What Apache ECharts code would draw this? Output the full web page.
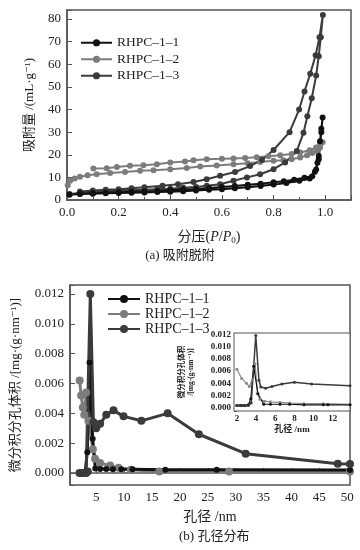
<!DOCTYPE html>
<html>
<head>
<meta charset="utf-8">
<script src="https://cdn.jsdelivr.net/npm/echarts@6/dist/echarts.min.js"></script>
<style>
html, body { margin: 0; padding: 0; background: #fff; }
#chart { width: 360px; height: 550px; }
</style>
</head>
<body>
<div id="chart"></div>
<script>
// ---- data: (a) isotherms, adsorption branch then desorption branch
const iso1P = [0.01, 0.05, 0.1, 0.15, 0.2, 0.25, 0.3, 0.35, 0.4, 0.45, 0.5, 0.55, 0.6, 0.65, 0.7, 0.75, 0.8, 0.85, 0.9, 0.94, 0.96, 0.97, 0.975, 0.98, 0.985, 0.99,
  0.985, 0.975, 0.965, 0.95, 0.92, 0.88, 0.84, 0.8, 0.75, 0.7, 0.65, 0.6, 0.55, 0.5, 0.45, 0.4, 0.35, 0.3, 0.25, 0.2, 0.15, 0.1, 0.05];
const iso1V = [2.3, 2.6, 2.8, 3.0, 3.1, 3.2, 3.3, 3.5, 3.7, 3.9, 4.2, 4.5, 4.8, 5.2, 5.6, 6.2, 6.8, 7.5, 8.5, 9.5, 12.5, 16.5, 19.5, 26, 31.5, 36.5,
  30, 18, 13.5, 10.5, 9.8, 9.0, 8.3, 7.8, 7.2, 6.7, 6.2, 5.8, 5.3, 4.9, 4.6, 4.3, 4.0, 3.8, 3.6, 3.4, 3.2, 3.0, 2.8];

const iso2P = [0.003, 0.012, 0.03, 0.05, 0.08, 0.115, 0.167, 0.225, 0.283, 0.335, 0.4, 0.464, 0.516, 0.58, 0.645, 0.7, 0.748, 0.8, 0.838, 0.87, 0.903, 0.93, 0.95, 0.968, 0.98, 0.99,
  0.98, 0.965, 0.94, 0.903, 0.87, 0.826, 0.78, 0.735, 0.69, 0.645, 0.6, 0.541, 0.49, 0.457, 0.4, 0.348, 0.296, 0.244, 0.193, 0.154, 0.102];
const iso2V = [6.5, 8.5, 9.5, 10.3, 10.9, 11.4, 11.9, 12.4, 12.9, 13.2, 13.6, 14.1, 14.8, 15.3, 15.8, 16.3, 16.8, 17.3, 17.6, 18.0, 18.8, 19.8, 20.8, 21.7, 23.2, 25.5,
  24.5, 23.2, 22.0, 21.0, 20.3, 19.8, 19.3, 18.9, 18.6, 18.4, 18.2, 18.0, 17.6, 17.0, 16.6, 15.8, 15.4, 15.1, 14.6, 14.0, 13.9];

const iso3P = [0.01, 0.05, 0.1, 0.15, 0.2, 0.25, 0.3, 0.35, 0.4, 0.45, 0.5, 0.541, 0.593, 0.645, 0.697, 0.748, 0.8, 0.845, 0.89, 0.916, 0.931, 0.948, 0.965, 0.975, 0.983, 0.991,
  0.978, 0.963, 0.942, 0.92, 0.899, 0.862, 0.8, 0.755, 0.709, 0.651, 0.593, 0.541, 0.49, 0.43, 0.37, 0.3, 0.25, 0.2, 0.15, 0.1, 0.05];
const iso3V = [2.6, 3.2, 3.6, 3.9, 4.1, 4.3, 4.5, 4.8, 5.0, 5.4, 5.8, 6.3, 7.0, 8.5, 10.0, 11.4, 13.6, 16.6, 21.7, 29.7, 37, 45, 55, 63.5, 72, 81.8,
  72, 64, 55.8, 48, 40, 30, 22.1, 17.7, 15.0, 12.4, 10.7, 9.2, 8.0, 7.0, 6.3, 5.6, 5.2, 4.8, 4.5, 4.2, 3.8];

// ---- data: (b) pore size distribution
const pd1D = [2.0, 2.5, 3.0, 3.2, 3.4, 3.8, 4.36, 4.84, 5.7, 6.8, 8.0, 9.5, 11.5, 17.4, 26.6, 50.5];
const pd1V = [0, 0, 0, 0.0001, 0.0014, 0.0074, 0.0023, 0.0003, 0.00028, 0.00027, 0.00026, 0.00025, 0.00025, 0.00023, 0.00023, 0.0002];

const pd2D = [2.03, 2.3, 2.6, 2.85, 3.2, 3.6, 4.4, 4.8, 5.7, 7.5, 9.0, 11.2, 16.3, 28.8, 50.5];
const pd2V = [0.0062, 0.0052, 0.0044, 0.0039, 0.0054, 0.0035, 0.0016, 0.00096, 0.00067, 0.0005, 0.00036, 0.00022, 0.0001, 0.0001, 0.0001];

const pd3D = [2.0, 2.4, 2.8, 3.2, 3.5, 3.94, 4.5, 5.0, 5.7, 6.8, 8.1, 9.9, 13.1, 17.8, 23.4, 31.8, 48.3, 50.5];
const pd3V = [0, 0, 0, 0, 0.0001, 0.012, 0.0034, 0.003, 0.0033, 0.0039, 0.0042, 0.0038, 0.0035, 0.004, 0.0026, 0.0013, 0.00063, 0.0006];

// ---- data: inset
const in1D = [2.0, 2.4, 2.8, 3.2, 3.45, 3.75, 4.2, 4.8, 5.5, 6.5, 7.5, 9.0, 11.0, 11.5, 13.8];
const in1V = [0.0004, 0.0004, 0.0004, 0.0005, 0.0015, 0.0068, 0.0023, 0.0006, 0.0006, 0.0006, 0.0006, 0.0005, 0.0005, 0.0005, 0.0005];

const in2D = [2.0, 2.5, 3.0, 3.3, 3.6, 3.9, 4.15, 4.4, 4.9, 5.5, 6.5, 7.5, 9.0, 11.0, 13.8];
const in2V = [0.0063, 0.0048, 0.004, 0.0035, 0.0045, 0.0072, 0.0024, 0.0014, 0.0011, 0.001, 0.0009, 0.0008, 0.0007, 0.0007, 0.0006];

const in3D = [2.0, 2.3, 2.6, 2.9, 3.2, 3.5, 3.97, 4.3, 4.5, 5.0, 5.65, 6.7, 8.0, 9.8, 13.8];
const in3V = [0.0004, 0.0004, 0.0004, 0.0004, 0.0004, 0.0008, 0.0118, 0.0045, 0.0034, 0.0032, 0.0035, 0.0039, 0.0042, 0.0039, 0.0036];

const sampleNames = ['RHPC–1–1', 'RHPC–1–2', 'RHPC–1–3'];
const colors = ['#111111', '#7c7c7c', '#3b3b3b'];

const SERIF = '"Liberation Serif", "DejaVu Serif", "Noto Sans CJK SC", serif';
const TXT = '#222';
const FRAME = '#555';

const zip = (xs, ys) => xs.map((x, i) => [x, ys[i]]);
const onStep = (v, step, lo, hi) => {
  const k = v / step;
  return Math.abs(k - Math.round(k)) < 1e-6 && v >= lo - 1e-9 && v <= hi + 1e-9;
};
const legendName = n => sampleNames[Number(n.slice(1)) - 1];

const chart = echarts.init(document.getElementById('chart'));

function lineSeries(id, idx, data, axis, opts) {
  return Object.assign({
    name: id,
    type: 'line',
    xAxisIndex: axis,
    yAxisIndex: axis,
    data: data,
    symbol: 'circle',
    color: colors[idx],
    lineStyle: { color: colors[idx] },
    itemStyle: { color: colors[idx] },
    animation: false
  }, opts);
}

const frameAxis = {
  axisLine: { show: true, lineStyle: { color: FRAME, width: 1.5 } },
  splitLine: { show: false }
};

const option = {
  backgroundColor: '#fff',
  animation: false,
  textStyle: { fontFamily: SERIF },
  grid: [
    { left: 67, right: 9, top: 10, bottom: 350, show: true, borderColor: FRAME, borderWidth: 1.5 },
    { left: 70, right: 10, top: 285, bottom: 65, show: true, borderColor: FRAME, borderWidth: 1.5 },
    { left: 234, right: 10, top: 333, bottom: 139, show: true, borderColor: FRAME, borderWidth: 1, backgroundColor: '#fff', z: 5 }
  ],
  xAxis: [
    Object.assign({}, frameAxis, {
      gridIndex: 0, type: 'value', min: 0, max: 1.1, interval: 0.2,
      name: '{t|分压(}{i|P}{t|/}{i|P}{s|0}{t|)}', nameLocation: 'middle', nameGap: 30,
      nameTextStyle: { rich: {
        t: { fontSize: 14, color: TXT, fontFamily: SERIF },
        i: { fontSize: 14, color: TXT, fontStyle: 'italic', fontFamily: SERIF },
        s: { fontSize: 9, color: TXT, fontFamily: SERIF, verticalAlign: 'bottom', padding: [6, 0, 0, 0] }
      } },
      axisTick: { inside: true, length: 5, lineStyle: { color: FRAME } },
      minorTick: { show: true, splitNumber: 2, length: 3, lineStyle: { color: FRAME } },
      axisLabel: { color: TXT, fontSize: 13, fontFamily: SERIF, margin: 6,
        formatter: v => onStep(v, 0.2, 0, 1.0) ? v.toFixed(1) : '' }
    }),
    Object.assign({}, frameAxis, {
      gridIndex: 1, type: 'value', min: 0.3, max: 50.5, splitNumber: 10,
      name: '孔径 /nm', nameLocation: 'middle', nameGap: 25,
      nameTextStyle: { fontSize: 14, color: TXT, fontFamily: SERIF },
      axisTick: { inside: true, length: 5, lineStyle: { color: FRAME } },
      axisLabel: { color: TXT, fontSize: 13, fontFamily: SERIF, margin: 6,
        formatter: v => onStep(v, 5, 5, 50) ? String(Math.round(v)) : '' }
    }),
    Object.assign({}, frameAxis, {
      gridIndex: 2, type: 'value', min: 1.7, max: 13.8, splitNumber: 6,
      axisLine: { show: true, lineStyle: { color: FRAME, width: 1 } },
      name: '孔径 /nm', nameLocation: 'middle', nameGap: 14,
      nameTextStyle: { fontSize: 9, color: TXT, fontFamily: SERIF, fontWeight: 'bold' },
      axisTick: { inside: true, length: 3, lineStyle: { color: FRAME } },
      axisLabel: { color: TXT, fontSize: 9, fontWeight: 'bold', fontFamily: SERIF, margin: 3,
        formatter: v => onStep(v, 2, 2, 12) ? String(Math.round(v)) : '' }
    })
  ],
  yAxis: [
    Object.assign({}, frameAxis, {
      gridIndex: 0, type: 'value', min: 0, max: 84, interval: 10,
      name: '吸附量 /(mL·g⁻¹)', nameLocation: 'middle', nameGap: 31, nameRotate: 90,
      nameTextStyle: { fontSize: 13, color: TXT, fontFamily: SERIF },
      axisTick: { inside: true, length: 5, lineStyle: { color: FRAME } },
      axisLabel: { color: TXT, fontSize: 13, fontFamily: SERIF, margin: 6,
        formatter: v => onStep(v, 10, 0, 80) ? String(Math.round(v)) : '' }
    }),
    Object.assign({}, frameAxis, {
      gridIndex: 1, type: 'value', min: -0.0008, max: 0.0126, splitNumber: 7,
      name: '微分积分孔体积 /[mg·(g·nm⁻¹)]', nameLocation: 'middle', nameGap: 48, nameRotate: 90,
      nameTextStyle: { fontSize: 13, color: TXT, fontFamily: SERIF },
      axisTick: { inside: true, length: 5, lineStyle: { color: FRAME } },
      axisLabel: { color: TXT, fontSize: 13, fontFamily: SERIF, margin: 6,
        formatter: v => onStep(v, 0.002, 0, 0.012) ? v.toFixed(3) : '' }
    }),
    Object.assign({}, frameAxis, {
      gridIndex: 2, type: 'value', min: -0.0005, max: 0.0122, splitNumber: 6,
      axisLine: { show: true, lineStyle: { color: FRAME, width: 1 } },
      name: '微分积分孔体积\n/[mg·(g·nm⁻¹)]', nameLocation: 'middle', nameGap: 38, nameRotate: 90,
      nameTextStyle: { fontSize: 7.5, color: TXT, fontFamily: SERIF, fontWeight: 'bold', lineHeight: 9 },
      axisTick: { inside: true, length: 3, lineStyle: { color: FRAME } },
      axisLabel: { color: TXT, fontSize: 9, fontWeight: 'bold', fontFamily: SERIF, margin: 3,
        formatter: v => onStep(v, 0.002, 0, 0.012) ? v.toFixed(3) : '' }
    })
  ],
  legend: [
    { data: ['a1', 'a2', 'a3'], orient: 'vertical', left: 80, top: 36, padding: 0, itemWidth: 31, itemHeight: 9, itemGap: 3,
      formatter: legendName, textStyle: { fontSize: 13.5, color: TXT, fontFamily: SERIF }, selectedMode: false },
    { data: ['b1', 'b2', 'b3'], orient: 'vertical', left: 107, top: 292, padding: 0, itemWidth: 32, itemHeight: 10, itemGap: 1,
      formatter: legendName, textStyle: { fontSize: 14, color: TXT, fontFamily: SERIF }, selectedMode: false },
    { data: ['c1', 'c2', 'c3'], orient: 'vertical', left: 270, top: 332, padding: 0, itemWidth: 13, itemHeight: 5, itemGap: -3,
      formatter: legendName, textStyle: { fontSize: 9, color: TXT, fontFamily: SERIF, fontWeight: 'bold' }, selectedMode: false }
  ],
  series: [
    lineSeries('a2', 1, zip(iso2P, iso2V), 0, { symbolSize: 6, lineStyle: { color: colors[1], width: 2 } }),
    lineSeries('a3', 2, zip(iso3P, iso3V), 0, { symbolSize: 6, lineStyle: { color: colors[2], width: 2 } }),
    lineSeries('a1', 0, zip(iso1P, iso1V), 0, { symbolSize: 6, lineStyle: { color: colors[0], width: 2 } }),

    lineSeries('b2', 1, zip(pd2D, pd2V), 1, { symbolSize: 8, lineStyle: { color: colors[1], width: 3 } }),
    lineSeries('b1', 0, zip(pd1D, pd1V), 1, { symbolSize: 6, lineStyle: { color: colors[0], width: 3 } }),
    lineSeries('b3', 2, zip(pd3D, pd3V), 1, { symbolSize: 8, lineStyle: { color: colors[2], width: 3 } }),

    lineSeries('c2', 1, zip(in2D, in2V), 2, { symbolSize: 3, z: 6, lineStyle: { color: '#8a8a8a', width: 1.2 }, itemStyle: { color: '#8a8a8a' } }),
    lineSeries('c1', 0, zip(in1D, in1V), 2, { symbolSize: 3, z: 6, lineStyle: { color: colors[0], width: 1.2 } }),
    lineSeries('c3', 2, zip(in3D, in3V), 2, { symbolSize: 3, z: 6, lineStyle: { color: colors[2], width: 1.5 } })
  ],
  graphic: [
    { type: 'text', left: 'center', top: 249, style: { text: '(a) 吸附脱附', fontSize: 13, fill: TXT, fontFamily: SERIF } },
    { type: 'text', left: 179, top: 530, style: { text: '(b) 孔径分布', fontSize: 13, fill: TXT, fontFamily: SERIF } }
  ]
};

chart.setOption(option);
</script>
</body>
</html>
